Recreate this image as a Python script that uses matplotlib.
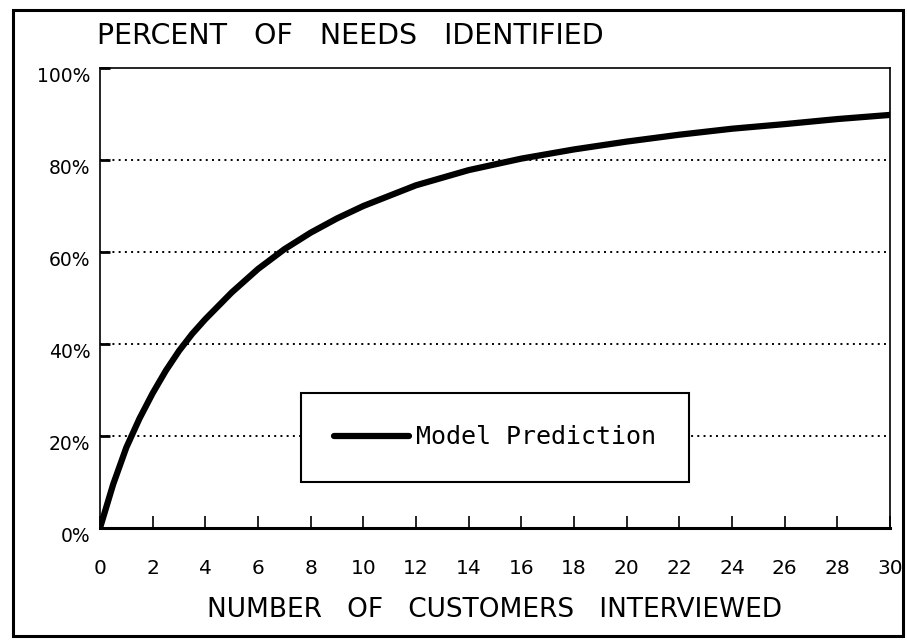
import matplotlib
matplotlib.use('Agg')
import matplotlib.pyplot as plt
import matplotlib.transforms as mtransforms
from matplotlib.patches import Rectangle

# values
customers = [0, 0.5, 1, 1.5, 2, 2.5, 3, 3.5, 4, 5, 6, 7, 8, 9, 10, 12, 14, 16, 18,
             20, 22, 24, 26, 28, 30]
needs_pct = [0, 9.5, 17.5, 23.8, 29.3, 34.2, 38.5, 42.2, 45.4, 51.2, 56.3, 60.6,
             64.2, 67.3, 70, 74.5, 77.8, 80.3, 82.3, 84, 85.5, 86.8, 87.8, 88.9, 89.8]
x_ticks = list(range(0, 31, 2))
y_ticks = [0, 20, 40, 60, 80, 100]
y_labels = ['0%', '20%', '40%', '60%', '80%', '100%']

plt.rcParams['font.family'] = ['DejaVu Sans']

fig = plt.figure(figsize=(9.07, 6.4), dpi=100)
ax = fig.add_axes([100 / 907, 112 / 640, 790 / 907, 460 / 640])

# outer frame around the whole figure
fig.patches.append(Rectangle((13 / 907, 4 / 640), 890 / 907, 626 / 640,
                             transform=fig.transFigure, fill=False,
                             edgecolor='black', linewidth=2.2))

ax.plot(customers, needs_pct, color='black', linewidth=4.5,
        solid_capstyle='round', solid_joinstyle='round',
        label='Model Prediction', zorder=3)

for v in y_ticks[1:-1]:
    ax.axhline(v, color='black', linestyle=(0, (1, 2.2)), linewidth=1.4, zorder=1)

ax.set_xlim(0, 30)
ax.set_ylim(0, 100)
ax.set_xticks(x_ticks)
ax.set_yticks(y_ticks)
ax.set_yticklabels(y_labels)
ax.tick_params(axis='x', direction='in', length=9, width=1.2, pad=22, labelsize=14.5)
ax.tick_params(axis='y', direction='in', length=7, width=2, pad=7, labelsize=13.5)

# y labels sit a little below their gridlines
offset = mtransforms.ScaledTranslation(0, -5 / 72, fig.dpi_scale_trans)
for lab in ax.get_yticklabels():
    lab.set_transform(lab.get_transform() + offset)

for side in ['top', 'right', 'left']:
    ax.spines[side].set_linewidth(1.2)
ax.spines['bottom'].set_linewidth(2.2)

ax.text(-0.1, 104, 'PERCENT   OF   NEEDS   IDENTIFIED', fontsize=20.5,
        ha='left', va='bottom')
ax.set_xlabel('NUMBER   OF   CUSTOMERS   INTERVIEWED', fontsize=19, labelpad=14)

leg = ax.legend(loc='center', bbox_to_anchor=(0.5, 0.197), fancybox=False,
                edgecolor='black', framealpha=1, borderpad=1.3,
                handlelength=3.0, handletextpad=0.3,
                prop={'family': 'DejaVu Sans Mono', 'size': 18})
leg.get_frame().set_linewidth(1.5)
leg.set_zorder(5)

fig.savefig('out.png', dpi=100)
